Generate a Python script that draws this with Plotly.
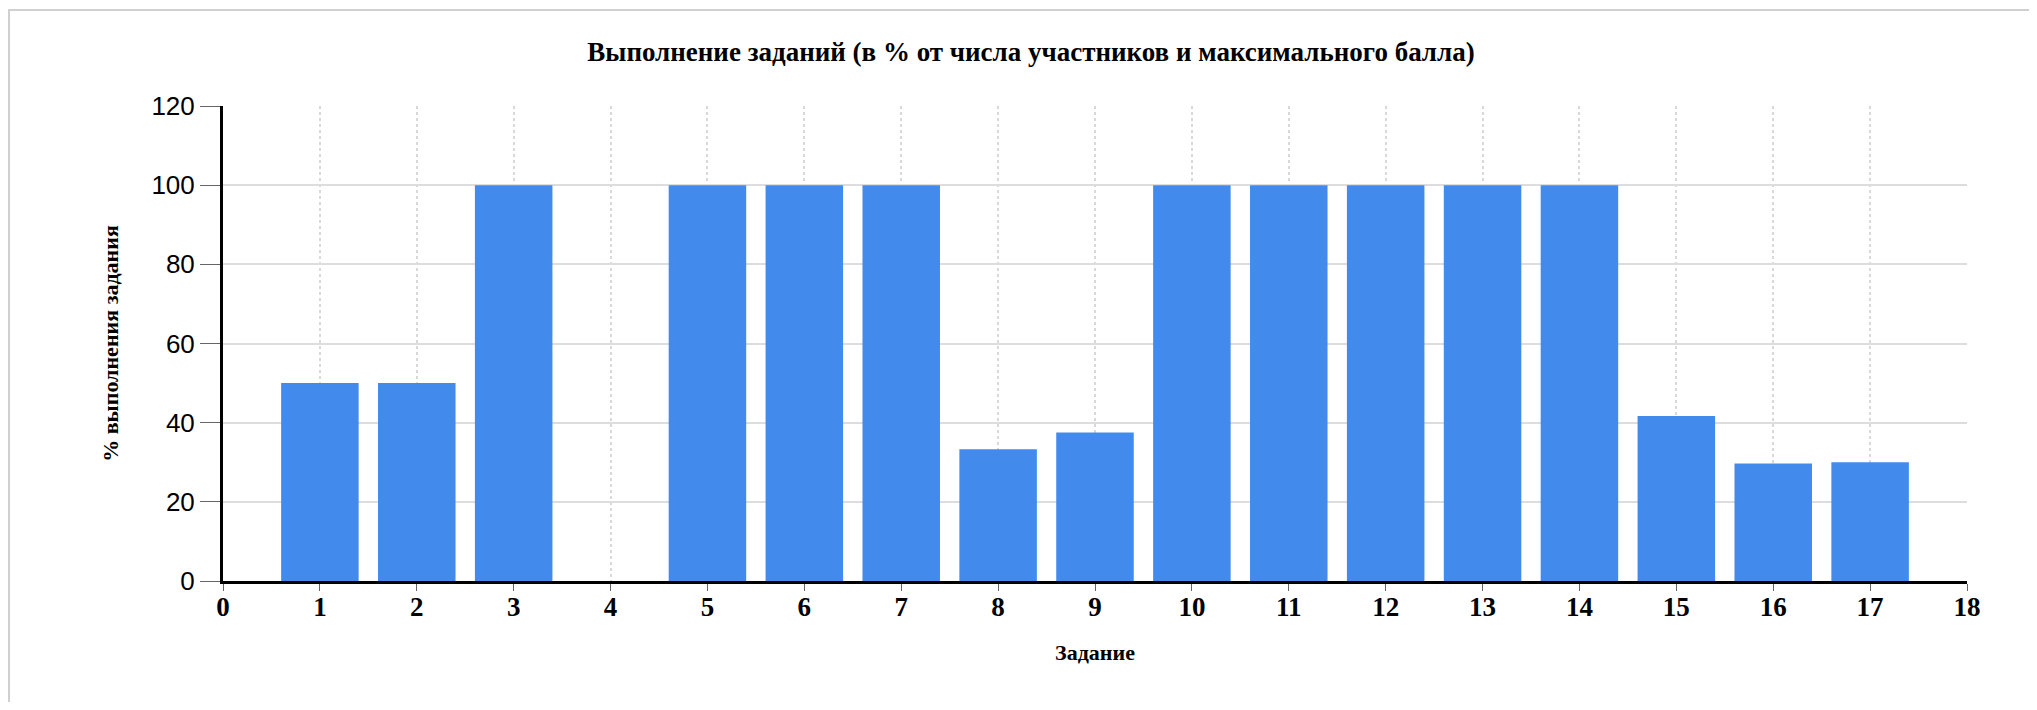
import plotly.graph_objects as go

tasks = list(range(1, 18))
percent = [50, 50, 100, 0, 100, 100, 100, 33.3, 37.5, 100, 100, 100, 100, 100, 41.7, 29.7, 30.0]

title_text = "Выполнение заданий (в % от числа участников и максимального балла)"
x_title = "Задание"
y_title = "% выполнения задания"
x_tickvals = list(range(0, 19))
y_tickvals = list(range(0, 121, 20))

# the page body adds an 8px offset; the figure is sized to fit inside it
OFF = 8
W, H = 2037 - 2 * OFF, 710 - 2 * OFF
L = 223 - OFF
T = 106 - OFF
R = W - (1967 - OFF)
B = H - (581 - OFF)
pw, ph = W - L - R, H - T - B

def px_x(p):
    return (p - OFF - L) / pw

def px_y(p):
    return (H - B - (p - OFF)) / ph

serif = "Liberation Serif, Times New Roman, serif"
sans = "Liberation Sans, Arial, sans-serif"

fig = go.Figure()
fig.add_trace(go.Bar(
    x=tasks, y=percent, width=0.8,
    marker=dict(color="#428bed", line=dict(width=0)),
    hovertemplate="%{x}: %{y}<extra></extra>",
))

fig.update_layout(
    width=W, height=H,
    margin=dict(l=L, r=R, t=T, b=B, pad=0),
    paper_bgcolor="white", plot_bgcolor="white",
    showlegend=False,
    title=dict(text=title_text, x=(1031 - OFF) / W, xref="container", xanchor="center",
               y=1 - (52 - OFF) / H, yref="container", yanchor="middle",
               font=dict(family=serif, size=27, color="black", weight="bold")),
    xaxis=dict(
        range=[0, 18], tickmode="array", tickvals=x_tickvals,
        ticktext=[str(v) for v in x_tickvals],
        showgrid=True, gridcolor="#d9d9d9", gridwidth=2, griddash="dot",
        showline=True, linecolor="black", linewidth=3,
        ticks="outside", ticklen=7, tickcolor="#666666", tickwidth=1,
        ticklabelstandoff=-7,
        tickfont=dict(family=serif, size=27, color="black", weight="bold"),
        zeroline=False,
        title=dict(text=x_title, standoff=24,
                   font=dict(family=serif, size=22, color="black", weight="bold")),
    ),
    yaxis=dict(
        range=[0, 120], tickmode="array", tickvals=y_tickvals,
        showgrid=True, gridcolor="#dddddd", gridwidth=2,
        showline=True, linecolor="black", linewidth=3,
        ticks="outside", ticklen=20, tickcolor="#666666", tickwidth=1,
        tickfont=dict(family=sans, size=26, color="black"),
        zeroline=False,
        title=dict(text=y_title, standoff=27,
                   font=dict(family=serif, size=22, color="black", weight="bold")),
    ),
    shapes=[dict(type="rect", xref="paper", yref="paper",
                 x0=px_x(9), x1=px_x(2300), y0=px_y(1000), y1=px_y(10),
                 line=dict(color="#d0d0d0", width=2), fillcolor="rgba(0,0,0,0)",
                 layer="above")],
)

fig.write_html("out.html")
